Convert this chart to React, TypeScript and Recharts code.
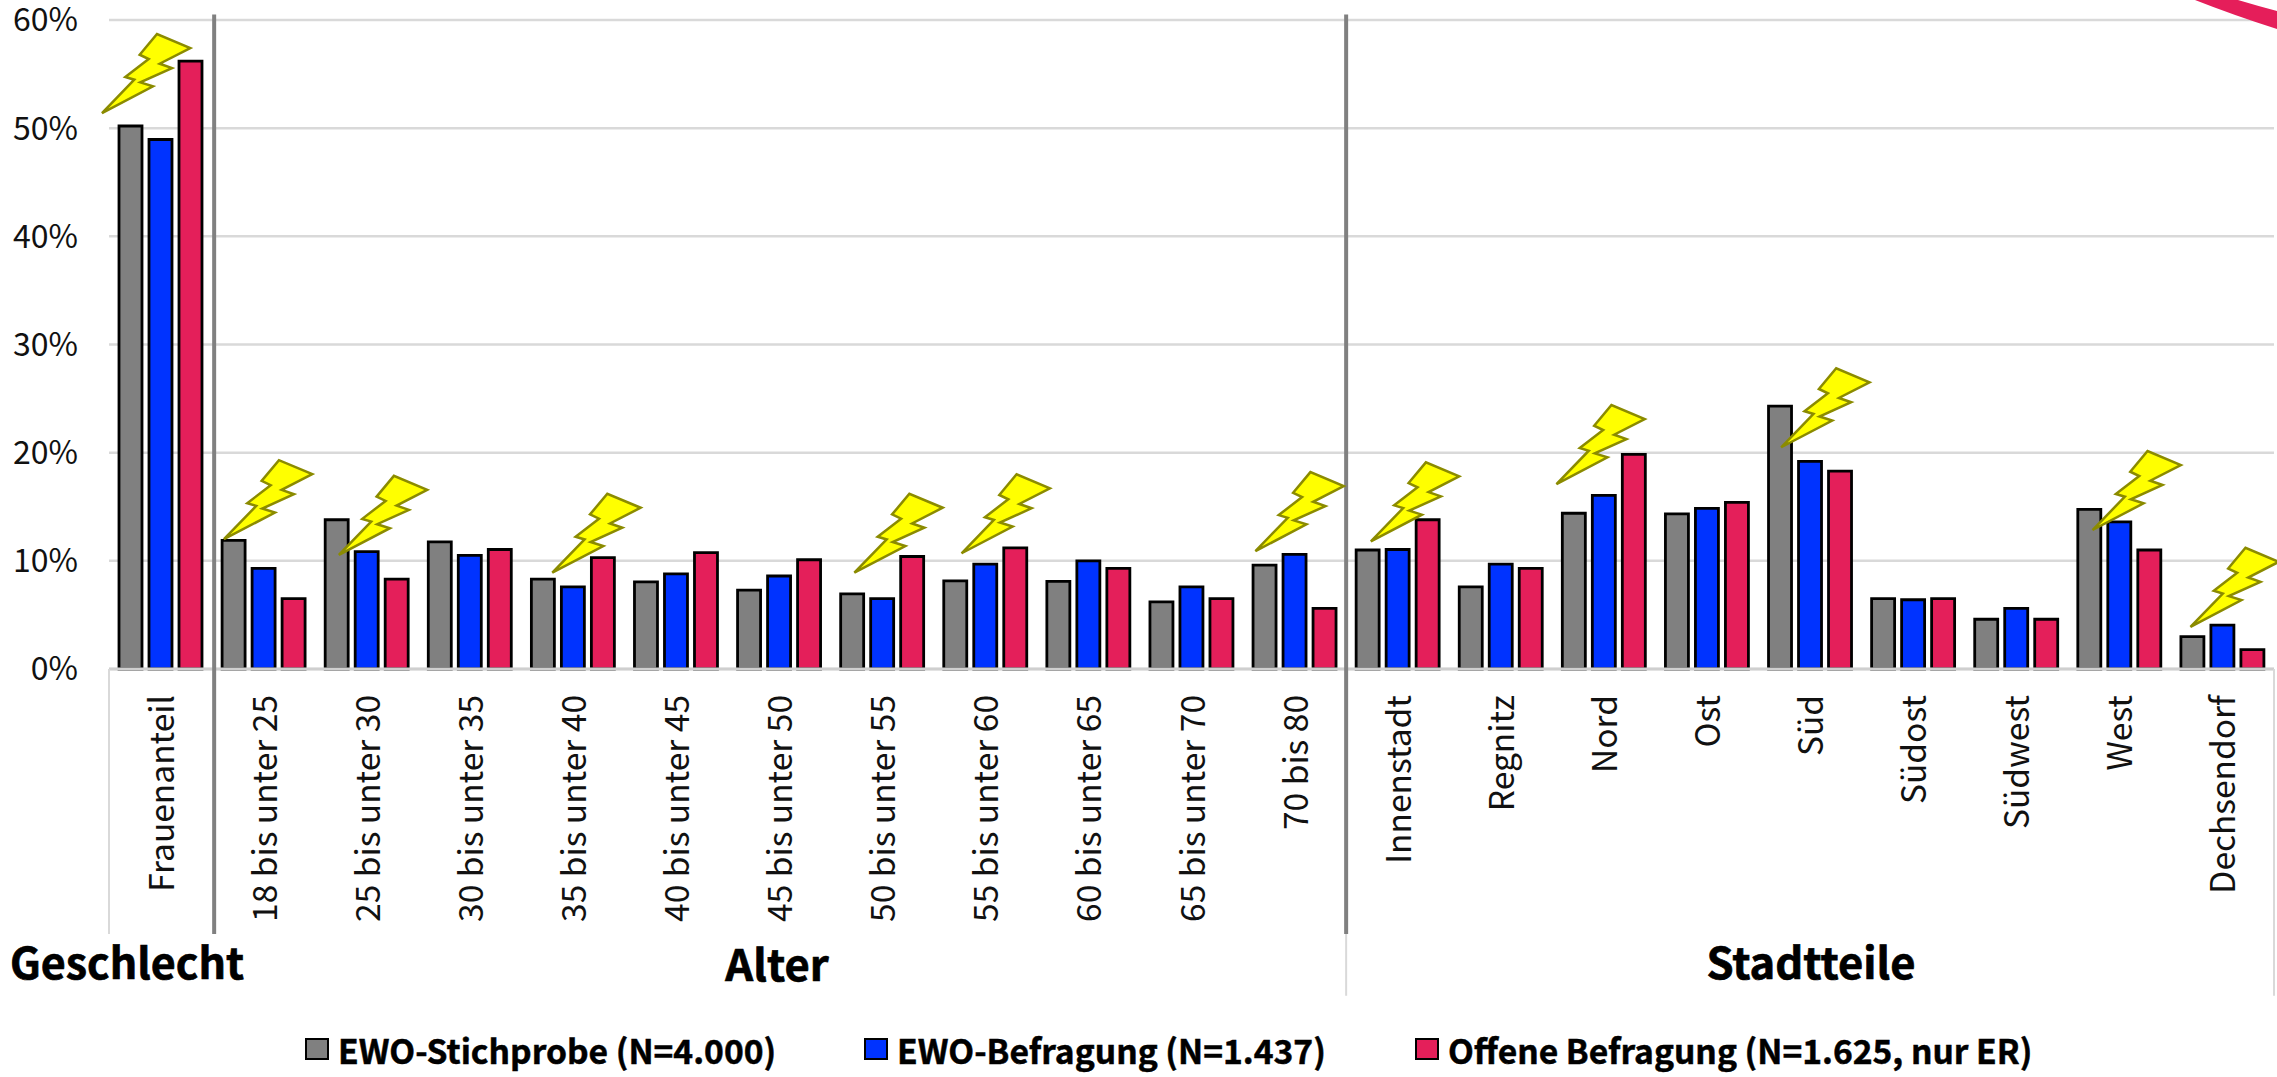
import { BarChart, Bar, XAxis, YAxis, CartesianGrid, Legend, ReferenceDot, ReferenceLine } from "recharts";

const categories = [
  "Frauenanteil",
  "18 bis unter 25", "25 bis unter 30", "30 bis unter 35", "35 bis unter 40", "40 bis unter 45", "45 bis unter 50",
  "50 bis unter 55", "55 bis unter 60", "60 bis unter 65", "65 bis unter 70", "70 bis 80",
  "Innenstadt", "Regnitz", "Nord", "Ost", "Süd", "Südost", "Südwest", "West", "Dechsendorf",
];
const stichprobe = [50.2, 11.9, 13.8, 11.75, 8.3, 8.05, 7.3, 6.95, 8.15, 8.1, 6.2, 9.6, 11.0, 7.6, 14.4, 14.35, 24.3, 6.5, 4.6, 14.75, 3.0];
const befragung = [48.95, 9.3, 10.85, 10.5, 7.6, 8.8, 8.6, 6.5, 9.7, 10.0, 7.6, 10.6, 11.05, 9.7, 16.05, 14.85, 19.2, 6.4, 5.6, 13.6, 4.05];
const offen = [56.2, 6.5, 8.3, 11.05, 10.3, 10.75, 10.1, 10.4, 11.2, 9.3, 6.5, 5.6, 13.8, 9.3, 19.85, 15.4, 18.3, 6.5, 4.6, 11.0, 1.8];

const percentTicks = [0, 10, 20, 30, 40, 50, 60];

// lightning markers: position in category units, height in percent
const boltSlots = [-0.068, 1.115, 2.23, 4.3, 7.23, 8.27, 11.12, 12.24, 14.04, 16.22, 19.24, 20.19];
const boltLevels = [51.4, 12.0, 10.55, 8.9, 8.9, 10.7, 10.9, 11.8, 17.1, 20.5, 12.85, 3.9];

const rows = categories.map((name, i) => ({ name, slot: i, stichprobe: stichprobe[i], befragung: befragung[i], offen: offen[i] }));

const FONT = "'Noto Sans CJK SC', 'Noto Sans', sans-serif";
const GRID = "#d9d9d9";

const Bolt = ({ cx, cy }: any) => (
  <polygon
    transform={`translate(${cx} ${cy})`}
    points="0,0 51,-26.7 38.3,-30.7 70,-45 57.7,-49.3 88.3,-65 55,-79 37.7,-58.3 46.7,-54 23.3,-36 32.3,-33.3"
    fill="#ffff00"
    stroke="#8b8b00"
    strokeWidth={2.5}
  />
);

const CategoryTick = ({ x, y, payload }: any) => (
  <text
    transform={`rotate(-90 ${x + 13} ${y + 18})`}
    x={x + 13}
    y={y + 18}
    textAnchor="end"
    fontFamily={FONT}
    fontSize={33.5}
    fill="#111"
  >
    {payload.value}
  </text>
);

const LegendRow = ({ payload }: any) => {
  const starts = [305, 864, 1415];
  return (
    <div style={{ position: "relative", height: 0 }}>
      {(payload || []).map((item: any, i: number) => (
        <div key={item.value} style={{ position: "absolute", left: starts[i], top: 0, display: "flex", alignItems: "center", whiteSpace: "nowrap", height: 24 }}>
          <span style={{ display: "inline-block", width: 20, height: 18, background: item.color, border: "2.5px solid #000", marginRight: 9 }} />
          <span style={{ fontFamily: FONT, fontWeight: 700, fontSize: 33.6, color: "#000", WebkitTextStroke: "0.5px #000" }}>{item.value}</span>
        </div>
      ))}
    </div>
  );
};

export default function App() {
  return (
    <div style={{ position: "absolute", left: 0, top: 0, width: 2277, height: 1077, overflow: "hidden", background: "#fff" }}>
      <BarChart
        width={2277}
        height={1077}
        data={rows}
        margin={{ top: 20, right: 3, bottom: 108, left: 0 }}
        barSize={23}
        barGap={7}
      >
        <path d="M2195,0 L2238,0 Q2258,6 2277,11 L2277,29 Q2233,15 2195,0 Z" fill="#e51e5a" />
        <CartesianGrid horizontal vertical={false} stroke={GRID} strokeWidth={2.5} />
        <XAxis dataKey="name" interval={0} height={300} axisLine={false} tickLine={false} tick={<CategoryTick />} />
        <XAxis xAxisId="slots" dataKey="slot" type="number" domain={[0, 21]} allowDataOverflow hide />
        <YAxis
          width={109}
          domain={[0, 60]}
          ticks={percentTicks}
          interval={0}
          axisLine={false}
          tickLine={false}
          tickMargin={25}
          tickFormatter={(v: number) => `${v}%`}
          tick={{ fontFamily: FONT, fontSize: 32, fill: "#111" }}
        />
        <Bar dataKey="stichprobe" name="EWO-Stichprobe (N=4.000)" fill="#808080" stroke="#000" strokeWidth={2.8} isAnimationActive={false} />
        <Bar dataKey="befragung" name="EWO-Befragung (N=1.437)" fill="#0033ff" stroke="#000" strokeWidth={2.8} isAnimationActive={false} />
        <Bar dataKey="offen" name="Offene Befragung (N=1.625, nur ER)" fill="#e41f5a" stroke="#000" strokeWidth={2.8} isAnimationActive={false} />

        <ReferenceLine y={0} stroke="#cfcfcf" strokeWidth={3} ifOverflow="visible" />
        <ReferenceLine xAxisId="slots" segment={[{ x: 0, y: 0 }, { x: 0, y: -24.5 }]} stroke={GRID} strokeWidth={2} ifOverflow="visible" />
        <ReferenceLine xAxisId="slots" segment={[{ x: 12, y: 0 }, { x: 12, y: -30.2 }]} stroke={GRID} strokeWidth={2} ifOverflow="visible" />
        <ReferenceLine xAxisId="slots" segment={[{ x: 21, y: 0 }, { x: 21, y: -30.2 }]} stroke={GRID} strokeWidth={2} ifOverflow="visible" />
        <ReferenceLine xAxisId="slots" segment={[{ x: 1.02, y: 60.5 }, { x: 1.02, y: -24.5 }]} stroke="#808080" strokeWidth={4} ifOverflow="visible" />
        <ReferenceLine xAxisId="slots" segment={[{ x: 12, y: 60.5 }, { x: 12, y: -24.5 }]} stroke="#808080" strokeWidth={4} ifOverflow="visible" />

        {boltSlots.map((slot, i) => (
          <ReferenceDot key={slot} xAxisId="slots" x={slot} y={boltLevels[i]} ifOverflow="visible" shape={<Bolt />} />
        ))}

        <text x={127} y={979} textAnchor="middle" fontFamily={FONT} fontWeight={700} fontSize={43} fill="#000" stroke="#000" strokeWidth={0.7}>Geschlecht</text>
        <text x={777} y={981} textAnchor="middle" fontFamily={FONT} fontWeight={700} fontSize={43.5} fill="#000" stroke="#000" strokeWidth={0.7}>Alter</text>
        <text x={1811} y={979} textAnchor="middle" fontFamily={FONT} fontWeight={700} fontSize={43.5} fill="#000" stroke="#000" strokeWidth={0.7}>Stadtteile</text>

        <Legend content={<LegendRow />} itemSorter={null} wrapperStyle={{ left: 0, top: 1037, width: 2277, height: 0 }} />
      </BarChart>
    </div>
  );
}
